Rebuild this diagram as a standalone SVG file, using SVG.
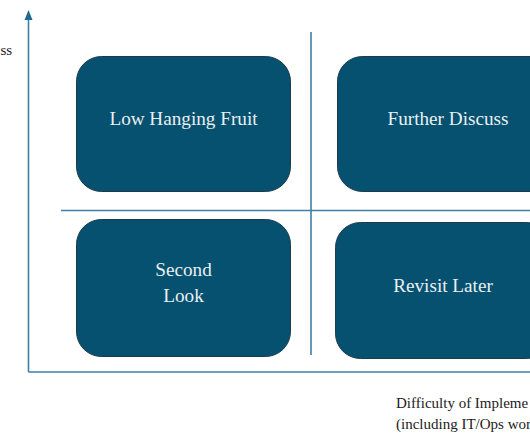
<svg xmlns="http://www.w3.org/2000/svg" width="530" height="442" viewBox="0 0 530 442">
<style>
.box{fill:#05516f;stroke:#1d3b4a;stroke-width:1}
.lbl{font-family:"Liberation Serif",serif;font-size:19.2px;fill:#e9f0f2;text-anchor:middle}
.ax{stroke:#3f7fa3;stroke-width:1.6;fill:none}
.txt{font-family:"Liberation Serif",serif;font-size:15px;fill:#222}
</style>
<rect width="530" height="442" fill="#fff"/>
<g id="connectors">
<path class="ax" d="M28.5,372 V18"/>
<polygon points="28.5,10 24.5,20 32.5,20" fill="#1f6a8e"/>
<path class="ax" d="M28.5,372 H540"/>
<path class="ax" d="M311,32 V355"/>
<path class="ax" d="M61,210.5 H540"/>
</g>
<g id="node-low-hanging-fruit">
<rect class="box" x="76.5" y="56.5" width="214" height="135" rx="25"/>
<text class="lbl" x="183.5" y="125">Low Hanging Fruit</text>
</g>
<g id="node-further-discuss">
<rect class="box" x="337.5" y="56.5" width="222" height="135" rx="25"/>
<text class="lbl" x="448" y="125">Further Discuss</text>
</g>
<g id="node-second-look">
<rect class="box" x="76.5" y="219.5" width="214" height="137" rx="25"/>
<text class="lbl" x="183.5" y="276">Second</text>
<text class="lbl" x="183.5" y="302">Look</text>
</g>
<g id="node-revisit-later">
<rect class="box" x="335.5" y="222.5" width="216" height="136" rx="25"/>
<text class="lbl" x="443" y="292">Revisit Later</text>
</g>
<g id="axis-labels">
<text class="txt" x="0.5" y="55">ss</text>
<text class="txt" x="396" y="408">Difficulty of Impleme</text>
<text class="txt" x="396" y="429">(including IT/Ops wor</text>
</g>
</svg>
